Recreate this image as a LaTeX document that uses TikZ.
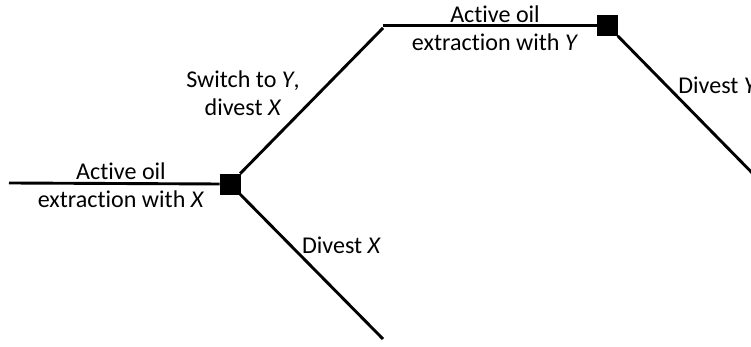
\documentclass[tikz,border=0pt]{standalone}
\usepackage{fontspec}
\setmainfont[Ligatures=NoCommon]{Carlito}
\usetikzlibrary{positioning}
\tikzset{
  branch/.style={line width=0.058cm},
  decision/.style={draw,fill,minimum size=0.4cm,inner sep=0pt},
  lbl/.style={inner sep=0pt,align=center,font=\fontsize{13.7}{16}\selectfont},
}
\begin{document}
\begin{tikzpicture}
\useasboundingbox (0,0) rectangle (15.02,6.94);
\clip (0,0) rectangle (15.02,6.94);
% decision points and ends
\coordinate (start) at (0.18,3.28);
\node[decision] (dX) at (4.6,3.26) {};
\coordinate (turn) at (7.66,6.38);
\coordinate (turnY) at (7.66,6.43);
\coordinate (endX) at (7.66,0.16);
\node[decision] (dY) at (12.15,6.43) {};
\coordinate (endY) at (15.3,3.22);
% branches
\draw[branch] (start) -- (dX.west);
\draw[branch] (dX) -- (turn);
\draw[branch] (dX) -- (endX);
\draw[branch] (turnY) -- (dY.west);
\draw[branch] (dY) -- (endY);
% labels
\node[lbl] (actX) at (2.42,3.24) {Active oil\\extraction with \textit{X}};
\node[lbl] (swY) at (4.86,5.08) {Switch to \textit{Y},\\divest \textit{X}};
\node[lbl] (actY) at (9.9,6.38) {Active oil\\extraction with \textit{Y}};
\node[lbl] (divX) at (6.83,2.04) {Divest \textit{X}};
\node[lbl,anchor=west] (divY) at (13.56,5.24) {Divest \textit{Y}};
\end{tikzpicture}
\end{document}
